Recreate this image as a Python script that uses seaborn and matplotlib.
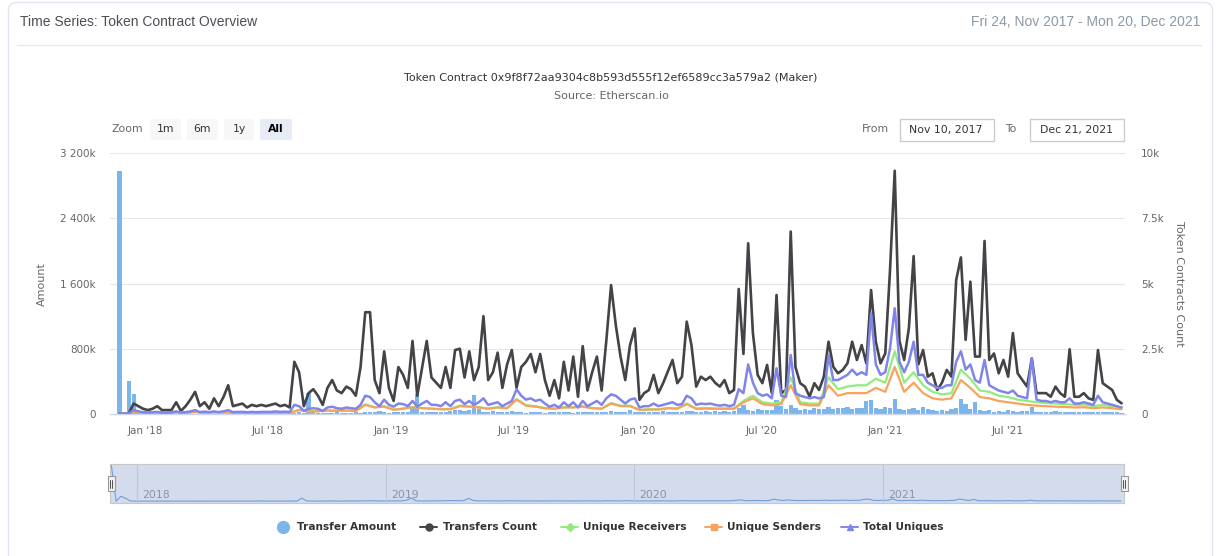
import numpy as np
import pandas as pd
import matplotlib
matplotlib.use("Agg")
import matplotlib.pyplot as plt
import matplotlib.dates as mdates
import matplotlib.patches as mpatches
from matplotlib.ticker import FuncFormatter
import seaborn as sns

sns.set_style("white")
plt.rcParams['font.family'] = ['DejaVu Sans']

# ---------------- data ----------------
week_dates = pd.date_range("2017-11-24", periods=213, freq="7D")
fortnight_dates = week_dates[::2]

# Transfer Amount (thousands), weekly
transfer_amount_k = [
    2980, 0, 410, 245, 10, 5, 5, 5, 5, 5,
    5, 5, 5, 5, 5, 5, 5, 5, 5, 5,
    5, 5, 5, 5, 5, 5, 5, 5, 5, 5,
    10, 30, 10, 10, 10, 10, 15, 10, 20, 10,
    260, 20, 15, 10, 15, 10, 20, 15, 10, 15,
    20, 15, 20, 30, 25, 35, 20, 15, 20, 25,
    30, 25, 90, 250, 30, 20, 20, 25, 25, 30,
    40, 55, 45, 40, 55, 230, 60, 30, 25, 35,
    20, 25, 20, 35, 30, 20, 15, 20, 25, 20,
    15, 20, 25, 20, 30, 20, 15, 25, 20, 20,
    30, 20, 25, 20, 40, 30, 25, 20, 45, 30,
    25, 20, 30, 25, 20, 35, 30, 25, 20, 30,
    40, 35, 30, 25, 35, 30, 40, 30, 35, 30,
    40, 70, 110, 50, 40, 60, 45, 50, 55, 170,
    100, 60, 110, 70, 50, 60, 55, 70, 60, 65,
    80, 60, 75, 70, 90, 60, 75, 70, 160, 170,
    70, 60, 80, 70, 190, 60, 50, 60, 70, 50,
    80, 60, 50, 40, 50, 40, 60, 70, 180, 120,
    60, 150, 50, 40, 45, 30, 40, 30, 50, 35,
    30, 40, 35, 80, 30, 25, 30, 25, 35, 30,
    25, 30, 25, 20, 30, 25, 20, 30, 25, 20,
    25, 20, 15,
]

# Transfers Count (thousands), weekly
transfers_count_k = [
    0.02, 0.02, 0.03, 0.4, 0.3, 0.2, 0.15, 0.2, 0.3, 0.15,
    0.15, 0.15, 0.45, 0.12, 0.3, 0.55, 0.85, 0.3, 0.45, 0.2,
    0.6, 0.3, 0.65, 1.1, 0.3, 0.35, 0.4, 0.25, 0.35, 0.3,
    0.35, 0.3, 0.35, 0.4, 0.3, 0.35, 0.25, 2.0, 1.6, 0.3,
    0.8, 0.95, 0.7, 0.35, 1.0, 1.3, 0.9, 0.8, 1.05, 0.95,
    0.7, 1.8, 3.9, 3.9, 1.3, 0.8, 2.4, 1.0, 0.5, 1.8,
    1.5, 1.0, 2.8, 0.7, 1.75, 2.8, 1.4, 1.2, 1.0, 1.8,
    1.0, 2.45, 2.5, 1.4, 2.4, 1.3, 1.8, 3.75, 1.3, 1.6,
    2.35, 1.0, 1.9, 2.45, 1.0, 1.8, 2.0, 2.3, 1.6, 2.3,
    1.3, 0.7, 1.3, 0.6, 2.0, 0.9, 2.2, 0.66, 2.6, 0.9,
    1.6, 2.2, 0.9, 2.83, 4.94, 3.4, 2.2, 1.3, 2.64, 3.28,
    0.54, 0.8, 0.92, 1.5, 0.8, 1.18, 1.63, 2.07, 1.18, 1.43,
    3.54, 2.64, 1.05, 1.43, 1.3, 1.43, 1.2, 1.05, 1.3, 0.8,
    0.92, 4.79, 2.3, 6.54, 3.1, 1.5, 1.18, 1.88, 0.8, 4.56,
    0.8, 0.92, 6.99, 1.8, 1.18, 1.05, 0.67, 1.18, 0.92, 1.43,
    2.77, 1.81, 1.56, 1.69, 1.94, 2.77, 2.07, 2.64, 1.94, 4.75,
    2.77, 1.94, 2.32, 5.49, 9.32, 2.8, 2.07, 3.3, 6.05, 1.9,
    2.45, 1.43, 1.56, 0.92, 1.2, 1.69, 1.43, 5.13, 6.0, 2.84,
    5.07, 2.2, 2.2, 6.63, 2.07, 2.32, 1.56, 2.07, 1.43, 3.1,
    1.56, 1.3, 1.05, 2.13, 0.8, 0.8, 0.8, 0.66, 1.05, 0.8,
    0.66, 2.48, 0.66, 0.66, 0.8, 0.6, 0.54, 2.45, 1.18, 1.05,
    0.92, 0.54, 0.41,
]

# Total Uniques (thousands), weekly
total_uniques_k = [
    0.02, 0.02, 0.03, 0.15, 0.1, 0.07, 0.06, 0.07, 0.08, 0.06,
    0.06, 0.06, 0.1, 0.06, 0.07, 0.1, 0.15, 0.07, 0.09, 0.07,
    0.1, 0.07, 0.1, 0.15, 0.07, 0.08, 0.08, 0.07, 0.08, 0.07,
    0.08, 0.08, 0.08, 0.1, 0.08, 0.09, 0.08, 0.35, 0.3, 0.12,
    0.2, 0.22, 0.2, 0.12, 0.25, 0.28, 0.22, 0.2, 0.25, 0.22,
    0.2, 0.35, 0.7, 0.65, 0.45, 0.3, 0.55, 0.35, 0.28, 0.4,
    0.38, 0.3, 0.5, 0.28, 0.4, 0.5, 0.35, 0.35, 0.3, 0.45,
    0.3, 0.5, 0.55, 0.38, 0.5, 0.35, 0.45, 0.6, 0.35, 0.4,
    0.45, 0.3, 0.4, 0.5, 0.95, 0.7, 0.55, 0.6, 0.5, 0.55,
    0.4, 0.28, 0.35, 0.25, 0.45, 0.3, 0.45, 0.25, 0.5, 0.3,
    0.4, 0.5, 0.35, 0.6, 0.75, 0.7, 0.55, 0.4, 0.55, 0.6,
    0.25, 0.3, 0.3, 0.4, 0.3, 0.35, 0.4, 0.45, 0.35, 0.38,
    0.7, 0.6, 0.35, 0.4, 0.38, 0.4, 0.35, 0.32, 0.35, 0.3,
    0.35, 0.95, 0.8, 1.9, 1.2, 0.8, 0.7, 0.75, 0.6, 1.75,
    0.7, 0.65, 2.26, 0.8, 0.7, 0.65, 0.6, 0.65, 0.6, 0.65,
    2.26, 1.3, 1.3, 1.4, 1.5, 1.7, 1.5, 1.6, 1.5, 3.85,
    1.9, 1.5, 1.6, 2.5, 4.05, 2.0, 1.6, 2.0, 2.77, 1.5,
    1.5, 1.2, 1.1, 1.0, 1.0, 1.1, 1.1, 2.0, 2.4, 1.7,
    1.9, 1.3, 1.2, 2.07, 1.1, 1.0, 0.9, 0.85, 0.8, 0.9,
    0.7, 0.65, 0.6, 2.13, 0.55, 0.5, 0.5, 0.45, 0.5, 0.45,
    0.45, 0.6, 0.4, 0.4, 0.45, 0.4, 0.35, 0.7, 0.45, 0.4,
    0.35, 0.3, 0.25,
]

# Unique Receivers (thousands), every two weeks
unique_receivers_k = [
    0.01, 0.02, 0.06, 0.04, 0.05, 0.04, 0.06, 0.04, 0.08, 0.05,
    0.06, 0.06, 0.05, 0.05, 0.05, 0.05, 0.05, 0.05, 0.05, 0.16,
    0.11, 0.11, 0.14, 0.13, 0.14, 0.12, 0.37, 0.26, 0.3, 0.17,
    0.21, 0.27, 0.23, 0.21, 0.19, 0.19, 0.32, 0.29, 0.26, 0.21,
    0.26, 0.23, 0.57, 0.34, 0.3, 0.23, 0.21, 0.26, 0.26, 0.3,
    0.23, 0.21, 0.42, 0.32, 0.32, 0.16, 0.18, 0.18, 0.23, 0.21,
    0.4, 0.21, 0.22, 0.21, 0.21, 0.21, 0.5, 0.7, 0.45, 0.4,
    0.45, 1.4, 0.45, 0.4, 0.4, 1.4, 0.95, 1.05, 1.1, 1.1,
    1.35, 1.2, 2.4, 1.2, 1.6, 1.1, 0.85, 0.75, 0.8, 1.7,
    1.35, 0.9, 0.85, 0.7, 0.65, 0.55, 0.5, 0.45, 0.42, 0.4,
    0.38, 0.35, 0.36, 0.3, 0.35, 0.3, 0.25,
]

# Unique Senders (thousands), every two weeks
unique_senders_k = [
    0.01, 0.02, 0.06, 0.04, 0.05, 0.04, 0.06, 0.04, 0.08, 0.05,
    0.06, 0.06, 0.05, 0.05, 0.05, 0.05, 0.05, 0.05, 0.05, 0.15,
    0.1, 0.1, 0.13, 0.12, 0.13, 0.11, 0.35, 0.25, 0.28, 0.16,
    0.2, 0.26, 0.22, 0.2, 0.18, 0.18, 0.3, 0.28, 0.25, 0.2,
    0.25, 0.22, 0.55, 0.32, 0.28, 0.22, 0.2, 0.25, 0.25, 0.28,
    0.22, 0.2, 0.4, 0.3, 0.3, 0.15, 0.17, 0.17, 0.22, 0.2,
    0.38, 0.2, 0.21, 0.2, 0.2, 0.2, 0.45, 0.6, 0.38, 0.33,
    0.38, 1.1, 0.38, 0.33, 0.33, 1.1, 0.7, 0.8, 0.8, 0.8,
    1.0, 0.85, 1.8, 0.85, 1.2, 0.8, 0.6, 0.55, 0.6, 1.3,
    1.0, 0.65, 0.6, 0.5, 0.45, 0.4, 0.35, 0.32, 0.3, 0.28,
    0.27, 0.25, 0.26, 0.22, 0.25, 0.22, 0.18,
]

year_labels = ["2018", "2019", "2020", "2021"]
left_ticks_k = [0, 800, 1600, 2400, 3200]
right_ticks_k = [0, 2.5, 5, 7.5, 10]

# ---------------- colours ----------------
C_BAR = "#7cb5ec"
C_BLACK = "#434348"
C_GREEN = "#90ed7d"
C_ORANGE = "#f7a35c"
C_PURPLE = "#8085e9"
C_AXIS_TXT = "#666666"

W, H = 1225, 556
fig = plt.figure(figsize=(W / 100, H / 100), dpi=100)

# background layer in pixel coordinates
bg = fig.add_axes([0, 0, 1, 1], zorder=0)
bg.set_xlim(0, W)
bg.set_ylim(H, 0)
bg.axis("off")

bg.add_patch(mpatches.FancyBboxPatch((8.5, 2.5), 1204, 620,
                                     boxstyle="round,pad=0,rounding_size=8",
                                     fc="white", ec="#e2e5ef", lw=1))
bg.plot([17, 1201], [45, 45], color="#e7eaf3", lw=1)
bg.text(20, 22, "Time Series: Token Contract Overview", fontsize=10,
        color="#4a4f55", family="Liberation Sans", va="center", ha="left")
bg.text(1200, 22, "Fri 24, Nov 2017 - Mon 20, Dec 2021", fontsize=10,
        color="#8c98a4", family="Liberation Sans", va="center", ha="right")
bg.text(611, 77, "Token Contract 0x9f8f72aa9304c8b593d555f12ef6589cc3a579a2 (Maker)",
        fontsize=8, color="#333333", ha="center", va="center")
bg.text(611, 96, "Source: Etherscan.io", fontsize=8, color="#666666",
        ha="center", va="center")

# range selector
bg.text(112, 129.5, "Zoom", fontsize=7.8, color="#666666", va="center", ha="left")
for label, x0, x1, active in [("1m", 150, 181, False), ("6m", 187, 218, False),
                              ("1y", 224, 254, False), ("All", 260, 292, True)]:
    bg.add_patch(mpatches.FancyBboxPatch((x0, 119), x1 - x0, 21,
                                         boxstyle="round,pad=0,rounding_size=2",
                                         fc="#e6ebf5" if active else "#f7f7f7", ec="none"))
    bg.text((x0 + x1) / 2, 129.5, label, fontsize=7.8,
            color="#000000" if active else "#333333",
            fontweight="bold" if active else "normal", ha="center", va="center")
bg.text(862, 129.5, "From", fontsize=7.8, color="#666666", va="center", ha="left")
bg.add_patch(mpatches.Rectangle((899.5, 118.5), 94, 22, fc="white", ec="#cccccc", lw=1))
bg.text(946, 129.5, "Nov 10, 2017", fontsize=7.8, color="#333333", va="center", ha="center")
bg.text(1005, 129.5, "To", fontsize=7.8, color="#666666", va="center", ha="left")
bg.add_patch(mpatches.Rectangle((1029.5, 118.5), 94, 22, fc="white", ec="#cccccc", lw=1))
bg.text(1076, 129.5, "Dec 21, 2021", fontsize=7.8, color="#333333", va="center", ha="center")

# axis titles
bg.text(42, 284, "Amount", rotation=90, fontsize=8, color=C_AXIS_TXT, ha="center", va="center")
bg.text(1179, 284, "Token Contracts Count", rotation=270, fontsize=8, color=C_AXIS_TXT,
        ha="center", va="center")

# ---------------- main chart ----------------
ax = fig.add_axes([110 / W, 1 - 414 / H, 1015 / W, 261 / H], zorder=3)
ax.patch.set_alpha(0)
ax.bar(week_dates, transfer_amount_k, width=6.3, color=C_BAR, align="center", zorder=2, lw=0)
ax.set_ylim(0, 3200)
ax.set_yticks(left_ticks_k)
ax.yaxis.set_major_formatter(FuncFormatter(
    lambda v, p: "0" if v == 0 else f"{int(round(v)):,}k".replace(",", " ")))
ax.grid(axis="y", color="#e6e6e6", lw=0.8)
ax.grid(axis="x", visible=False)
ax.set_axisbelow(True)

ax2 = ax.twinx()
sns.lineplot(x=week_dates, y=transfers_count_k, ax=ax2, color=C_BLACK, lw=1.9)
sns.lineplot(x=fortnight_dates, y=unique_receivers_k, ax=ax2, color=C_GREEN, lw=1.6)
sns.lineplot(x=fortnight_dates, y=unique_senders_k, ax=ax2, color=C_ORANGE, lw=1.6)
sns.lineplot(x=week_dates, y=total_uniques_k, ax=ax2, color=C_PURPLE, lw=1.8)
ax2.set_ylim(0, 10)
ax2.set_yticks(right_ticks_k)
ax2.yaxis.set_major_formatter(FuncFormatter(lambda v, p: "0" if v == 0 else f"{v:g}k"))
ax2.set_ylabel("")
ax2.set_xlabel("")
ax.set_ylabel("")
ax.set_xlabel("")

ax.set_xlim(pd.Timestamp("2017-11-10"), pd.Timestamp("2021-12-22"))
ax.xaxis.set_major_locator(mdates.MonthLocator(bymonth=[1, 7]))
ax.xaxis.set_major_formatter(FuncFormatter(
    lambda v, p: mdates.num2date(v).strftime("%b '%y")))

for a in (ax, ax2):
    for s in a.spines.values():
        s.set_visible(False)
ax.spines["bottom"].set_visible(True)
ax.spines["bottom"].set_color("#ccd6eb")
ax.spines["bottom"].set_linewidth(1)
ax.tick_params(axis="x", length=6, width=0.8, color="#ccd6eb", labelsize=7.5,
               labelcolor=C_AXIS_TXT, pad=2.5)
ax.tick_params(axis="y", length=0, labelsize=7.5, labelcolor=C_AXIS_TXT, pad=10)
ax2.tick_params(axis="y", length=0, labelsize=7.5, labelcolor=C_AXIS_TXT, pad=11.5)

# ---------------- navigator ----------------
nav = fig.add_axes([110 / W, 1 - 503 / H, 1014 / W, 39 / H], zorder=2)
nav.set_facecolor("#d3dbec")
sns.lineplot(x=week_dates, y=transfer_amount_k, ax=nav, color="#6f9fd8", lw=0.8)
nav_start, nav_end = pd.Timestamp("2017-11-22"), pd.Timestamp("2021-12-21")
nav.set_xlim(nav_start, nav_end)
nav.set_ylim(-150, 3100)
for lab in year_labels:
    d = pd.Timestamp(f"{lab}-01-01")
    nav.axvline(d, color="#bcc6da", lw=0.8)
    nav.text(d + pd.Timedelta(days=8), 0.2, lab, transform=nav.get_xaxis_transform(),
             fontsize=7.8, color="#8d93a0", va="center", ha="left")
nav.set_xticks([])
nav.set_yticks([])
nav.set_xlabel("")
nav.set_ylabel("")
for s in nav.spines.values():
    s.set_color("#c8c8c8")
    s.set_linewidth(0.8)

# ---------------- overlay: handles + legend ----------------
top = fig.add_axes([0, 0, 1, 1], zorder=10)
top.set_xlim(0, W)
top.set_ylim(H, 0)
top.axis("off")
top.patch.set_alpha(0)
for hx in (107.5, 1120.5):
    top.add_patch(mpatches.Rectangle((hx, 476), 7, 15, fc="#f2f2f2", ec="#999999", lw=0.8))
    top.plot([hx + 2.5, hx + 2.5], [479.5, 487.5], color="#333333", lw=0.6)
    top.plot([hx + 4.5, hx + 4.5], [479.5, 487.5], color="#333333", lw=0.6)

ly = 527
top.plot([283], [ly], marker="o", ms=8.5, color=C_BAR, ls="none")
top.text(297, ly, "Transfer Amount", fontsize=7.6, fontweight="bold", color="#333333",
         va="center", ha="left")
legend_items = [
    (420, 443, C_BLACK, "o", 5.0, "Transfers Count"),
    (561, 583, C_GREEN, "D", 3.8, "Unique Receivers"),
    (705, 727, C_ORANGE, "s", 4.5, "Unique Senders"),
    (841, 863, C_PURPLE, "^", 5.0, "Total Uniques"),
]
for x0, tx, col, mk, ms, lab in legend_items:
    top.plot([x0, x0 + 17], [ly, ly], color=col, lw=1.4)
    top.plot([x0 + 8.5], [ly], marker=mk, ms=ms, color=col, ls="none")
    top.text(tx, ly, lab, fontsize=7.6, fontweight="bold", color="#333333",
             va="center", ha="left")

fig.savefig("out.png", dpi=100, facecolor="white")
